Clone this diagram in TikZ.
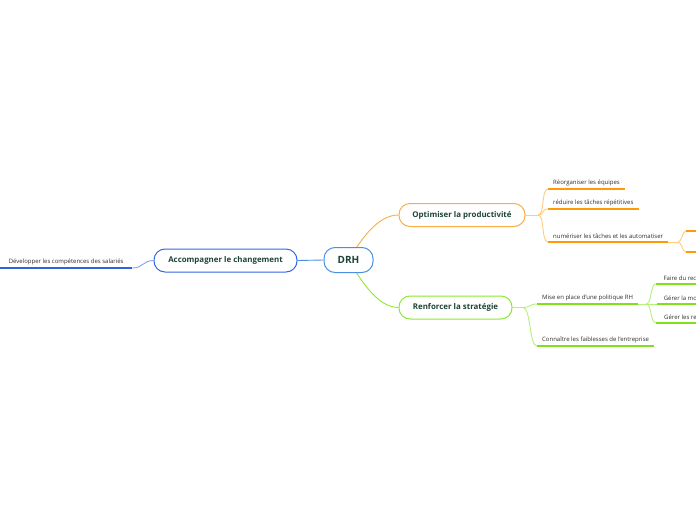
\documentclass[tikz,border=0pt]{standalone}
\usepackage{fontspec}
\setmainfont{Open Sans}
\usepackage{xcolor}
\usetikzlibrary{positioning,backgrounds}

\definecolor{ink}{HTML}{1D4438}
\definecolor{leafink}{HTML}{2E2E2E}
\definecolor{blueD}{HTML}{4A90E2}
\definecolor{blueA}{HTML}{3366E6}
\definecolor{blueL}{HTML}{2F62E0}
\definecolor{blueC}{HTML}{7F9FEF}
\definecolor{oranB}{HTML}{F8AE45}
\definecolor{oranL}{HTML}{FF9A05}
\definecolor{oranC}{HTML}{FFCB80}
\definecolor{greenB}{HTML}{8DE830}
\definecolor{greenL}{HTML}{7FE01C}
\definecolor{greenC}{HTML}{B6F07A}

\begin{document}
\begin{tikzpicture}[
  x=1pt, y=-1pt,
  topic/.style={draw, rounded corners=11pt, fill=white, line width=1pt, text=ink,
                font=\fontsize{7.9}{9}\selectfont\bfseries, minimum height=23pt, inner xsep=4pt},
  leaf/.style={anchor=south west, text=leafink, font=\fontsize{6}{7}\selectfont,
               inner xsep=5pt, inner ysep=3pt},
  uline/.style={line width=1.4pt},
  link/.style={line width=0.9pt}
]
\useasboundingbox (0,0) rectangle (696,520);

% main topics
\node[topic, draw=blueD, minimum width=49pt, minimum height=25pt,
      font=\fontsize{10}{11}\selectfont\bfseries] (drh) at (348.5,260) {DRH};
\node[topic, draw=oranB, minimum width=126pt] (opt) at (462,215) {Optimiser la productivité};
\node[topic, draw=greenB, minimum width=113pt] (ren) at (455.5,307.5) {Renforcer la stratégie};
\node[topic, draw=blueA, minimum width=143pt] (acc) at (225.5,260.5) {Accompagner le changement};

% leaves
\node[leaf, minimum width=132pt] (dev) at (0,268) {Développer les compétences des salariés};
\node[leaf] (reorg) at (548,189) {Réorganiser les équipes};
\node[leaf] (reduire) at (548,209) {réduire les tâches répétitives};
\node[leaf] (numer) at (548,242) {numériser les tâches et les automatiser};
\node[leaf] (mise) at (537,304) {Mise en place d'une politique RH};
\node[leaf] (connait) at (537,346) {Connaître les faiblesses de l'entreprise};
\node[leaf, minimum width=50pt] (recr) at (656,284) {Faire du recr};
\node[leaf, minimum width=50pt] (mob) at (657,304) {Gérer la mob};
\node[leaf, minimum width=50pt] (rel) at (656,323) {Gérer les rel};

% underlines
\foreach \n/\c in {reorg/oranL, reduire/oranL, numer/oranL,
                   mise/greenL, connait/greenL, recr/greenL, mob/greenL, rel/greenL}
  \draw[uline, \c] (\n.south west) -- (\n.south east);
\draw[uline, blueL, line width=2pt] (dev.south west) -- (dev.south east);

% forks and off-page ends
\coordinate (optfork) at (538,215);
\coordinate (renfork) at (523,307.5);
\coordinate (misefork) at (646,304);
\coordinate (numfork) at (678,242);
\coordinate (numup) at (686,231);
\coordinate (numdown) at (686,252);
\coordinate (numupend) at (700,231);
\coordinate (numdownend) at (700,252);

% links from DRH
\begin{scope}[on background layer]
\draw[link, oranB] (drh.center) .. controls (362,238) and (378,215) .. (opt.west);
\draw[link, greenB] (drh.center) .. controls (362,282) and (378,307.5) .. (ren.west);
\end{scope}
\draw[link, blueD] (drh.west) -- (acc.east);

% links to leaves
\draw[link, blueC] (acc.west) .. controls (143,260.5) and (143,268) .. (dev.south east);
\draw[link, oranC] (opt.east) -- (optfork);
\foreach \n in {reorg, reduire, numer}
  \draw[link, oranC] (optfork) .. controls +(7,0) and +(-7,0) .. (\n.south west);
\draw[link, greenC] (ren.east) -- (renfork);
\foreach \n in {mise, connait}
  \draw[link, greenC] (renfork) .. controls +(8,0) and +(-8,0) .. (\n.south west);
\draw[link, greenC] (mise.south east) -- (misefork);
\foreach \n in {recr, mob, rel}
  \draw[link, greenC] (misefork) .. controls +(6,0) and +(-6,0) .. (\n.south west);
\draw[link, oranC] (numer.south east) -- (numfork);
\draw[link, oranC] (numfork) .. controls +(4,0) and +(-4,0) .. (numup);
\draw[link, oranC] (numfork) .. controls +(4,0) and +(-4,0) .. (numdown);
\draw[uline, oranL] (numup) -- (numupend);
\draw[uline, oranL] (numdown) -- (numdownend);
\end{tikzpicture}
\end{document}
